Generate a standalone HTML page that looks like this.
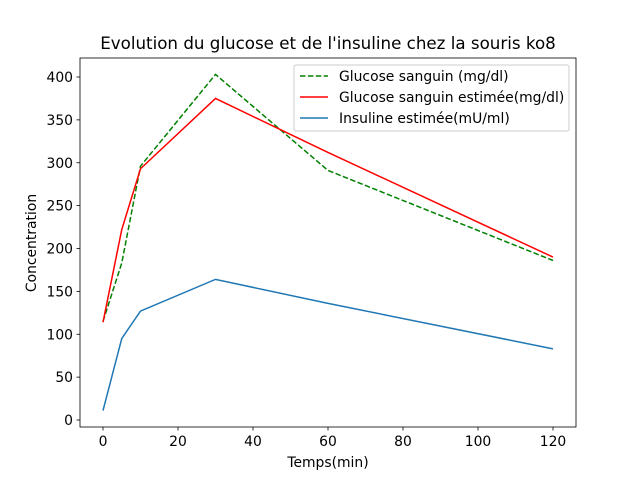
<!DOCTYPE html>
<html><head><meta charset="utf-8"><style>body{margin:0;background:#fff}svg{display:block;font-family:"DejaVu Sans","Liberation Sans",sans-serif}</style></head>
<body>
<svg id="c" width="640" height="480"></svg>
<script>
const xs=[0,5,10,30,60,120];
const glucose=[115,183,296,403,291,186];
const glucoseEst=[114,222,293,375,312,190];
const insuline=[11,95,127,164,136,83];
const xTicks=[0,20,40,60,80,100,120];
const yTicks=[0,50,100,150,200,250,300,350,400];
const L=80,R=576,T=58,B=427;
const X=v=>103+v*3.75, Y=v=>420-v*0.8575;
const s=document.getElementById('c');const ns='http://www.w3.org/2000/svg';
function el(t,a,p){const e=document.createElementNS(ns,t);for(const k in a)e.setAttribute(k,a[k]);(p||s).appendChild(e);return e;}
const ax=el('rect',{x:L,y:T,width:R-L,height:B-T,fill:'none',stroke:'#000','stroke-width':0.8});


xTicks.forEach(v=>{const g=el('g',{});


el('line',{x1:X(v),x2:X(v),y1:B,y2:B+3.5,stroke:'#000','stroke-width':0.8},g);
const t=el('text',{x:X(v),y:B+19,'text-anchor':'middle','font-size':13.9},g);t.textContent=v;});
yTicks.forEach(v=>{const g=el('g',{});


el('line',{x1:L-3.5,x2:L,y1:Y(v),y2:Y(v),stroke:'#000','stroke-width':0.8},g);
const t=el('text',{x:L-7,y:Y(v)+5,'text-anchor':'end','font-size':13.9},g);t.textContent=v;});
function line(d,c,dash,name){const p=el('polyline',{points:xs.map((x,i)=>X(x)+','+Y(d[i])).join(' '),fill:'none',stroke:c,'stroke-width':1.5});
if(dash)p.setAttribute('stroke-dasharray',dash);

}
line(glucose,'#008000','5.5,2.4','glucose-line');
line(glucoseEst,'#ff0000',null,'glucose-estimated-line');
line(insuline,'#1f77b4',null,'insuline-line');
function txt(x,y,str,sz,anc,name,rot){const t=el('text',{x:x,y:y,'font-size':sz,'text-anchor':anc});if(rot)t.setAttribute('transform',rot);t.textContent=str;

}
txt(328,49,"Evolution du glucose et de l'insuline chez la souris ko8",16.7,'middle','chart-title');
txt(328,467,'Temps(min)',13.9,'middle','x-axis-title');
txt(36,243,'Concentration',13.9,'middle','y-axis-title','rotate(-90 36 243)');
const lg=el('g',{});


el('rect',{x:294,y:65,width:275,height:66,rx:2,fill:'#fff','fill-opacity':0.8,stroke:'#ccc'},lg);
[['Glucose sanguin (mg/dl)','#008000','5.5,2.4'],['Glucose sanguin estimée(mg/dl)','#ff0000',null],['Insuline estimée(mU/ml)','#1f77b4',null]].forEach((e,i)=>{
const y=76+i*21;const g=el('g',{},lg);


const l=el('line',{x1:300,x2:328,y1:y,y2:y,stroke:e[1],'stroke-width':1.5},g);if(e[2])l.setAttribute('stroke-dasharray',e[2]);
const t=el('text',{x:339,y:y+5,'font-size':13.9},g);t.textContent=e[0];});
</script>
</body></html>
